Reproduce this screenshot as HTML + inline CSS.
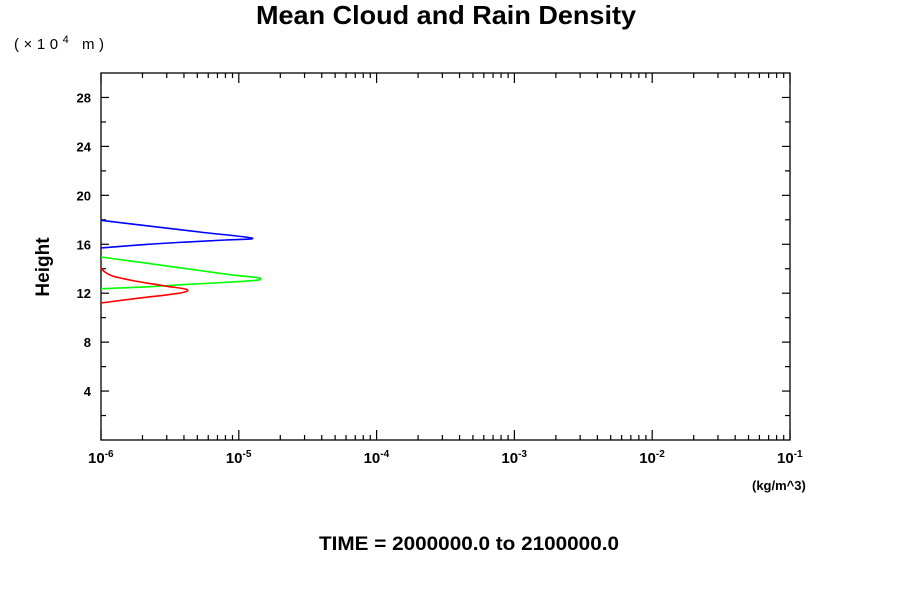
<!DOCTYPE html>
<html><head><meta charset="utf-8"><style>body{margin:0;background:#fff}svg{display:block;font-family:"Liberation Sans",sans-serif}</style></head>
<body>
<svg id="chart" width="900" height="600">
<text x="256" y="24" textLength="380" lengthAdjust="spacingAndGlyphs" font-size="26" font-weight="bold">Mean Cloud and Rain Density</text>
<text x="14" y="49" font-size="15" textLength="90">(×10<tspan font-size="11" dy="-6">4</tspan><tspan dy="6"> m)</tspan></text>
<text x="49" y="267" font-size="19" font-weight="bold" text-anchor="middle" transform="rotate(-90 49 267)">Height</text>
<text x="752" y="490" font-size="13" font-weight="bold">(kg/m^3)</text>
<text x="319" y="550" font-size="19" font-weight="bold" textLength="300" lengthAdjust="spacingAndGlyphs">TIME = 2000000.0 to 2100000.0</text>
<rect x="101" y="73" width="689" height="367" fill="none" stroke="#000" stroke-width="1.3"/>
<g id="axes"></g><g id="series"></g>
</svg>
<script>
const yTicks=[4,8,12,16,20,24,28];
const xExps=[-6,-5,-4,-3,-2,-1];
const blueH=[17.96,17.5,17.0,16.5,16.35,16.2,16.0,15.7];
const blueV=[1e-6,2.2e-6,5.2e-6,12.5e-6,8e-6,4.5e-6,2.2e-6,1e-6];
const greenH=[14.96,14.5,14.0,13.5,13.3,13.18,13.05,12.9,12.7,12.5,12.37];
const greenV=[1e-6,2.0e-6,4.2e-6,8.9e-6,13.2e-6,14.5e-6,13.2e-6,8.5e-6,4e-6,2e-6,1e-6];
const redH=[14.1,13.8,13.4,13.0,12.6,12.3,12.0,11.6,11.2];
const redV=[1e-6,1.05e-6,1.22e-6,1.76e-6,2.9e-6,4.2e-6,3.7e-6,1.9e-6,1e-6];
const L=101,R=790,T=73,B=440;
const X=v=>L+(Math.log10(v)+6)/5*(R-L);
const Y=h=>B-h/30*(B-T);
const ns="http://www.w3.org/2000/svg";
const ax=document.getElementById('axes'),sg=document.getElementById('series');
function line(x1,y1,x2,y2){const l=document.createElementNS(ns,'line');l.setAttribute('x1',x1);l.setAttribute('y1',y1);l.setAttribute('x2',x2);l.setAttribute('y2',y2);l.setAttribute('stroke','#000');l.setAttribute('stroke-width','1.2');ax.appendChild(l);return l;}
for(let h=2;h<30;h+=2){const major=h%4===0,len=major?8:5;
const a=line(L,Y(h),L+len,Y(h));
const b=line(R,Y(h),R-len,Y(h));}
yTicks.forEach(h=>{const t=document.createElementNS(ns,'text');t.setAttribute('x',91);t.setAttribute('y',Y(h)+5);t.setAttribute('text-anchor','end');t.setAttribute('font-size','13');t.setAttribute('font-weight','bold');t.textContent=h;


ax.appendChild(t);});
xExps.forEach((e,i)=>{const x=X(Math.pow(10,e));
const m=line(x,B,x,B-10);
const m2=line(x,T,x,T+10);
if(i<xExps.length-1)for(let k=2;k<10;k++){const xx=X(k*Math.pow(10,e));const s=line(xx,B,xx,B-5);const s2=line(xx,T,xx,T+5);}
const t=document.createElementNS(ns,'text');t.setAttribute('x',x-13);t.setAttribute('y',463);t.setAttribute('font-size','15');t.setAttribute('font-weight','bold');
t.innerHTML='10<tspan font-size="10" dy="-6">'+e+'</tspan>';


ax.appendChild(t);});
function smoothPath(P){let d='M'+P[0][0].toFixed(1)+','+P[0][1].toFixed(1);
for(let i=0;i<P.length-1;i++){const p0=P[i-1]||P[i],p1=P[i],p2=P[i+1],p3=P[i+2]||p2;
const c1=[p1[0]+(p2[0]-p0[0])/6,p1[1]+(p2[1]-p0[1])/6],c2=[p2[0]-(p3[0]-p1[0])/6,p2[1]-(p3[1]-p1[1])/6];
d+=' C'+c1.map(v=>v.toFixed(1))+' '+c2.map(v=>v.toFixed(1))+' '+p2.map(v=>v.toFixed(1));}
return d;}
function series(H,V,c,name){const p=document.createElementNS(ns,'path');
p.setAttribute('d',smoothPath(H.map((h,i)=>[X(V[i]),Y(h)])));
p.setAttribute('fill','none');p.setAttribute('stroke',c);p.setAttribute('stroke-width','1.6');


sg.appendChild(p);}
series(blueH,blueV,'#0000ff','blue-profile');
series(greenH,greenV,'#00ff00','green-profile');
series(redH,redV,'#ff0000','red-profile');
</script>
</body></html>
